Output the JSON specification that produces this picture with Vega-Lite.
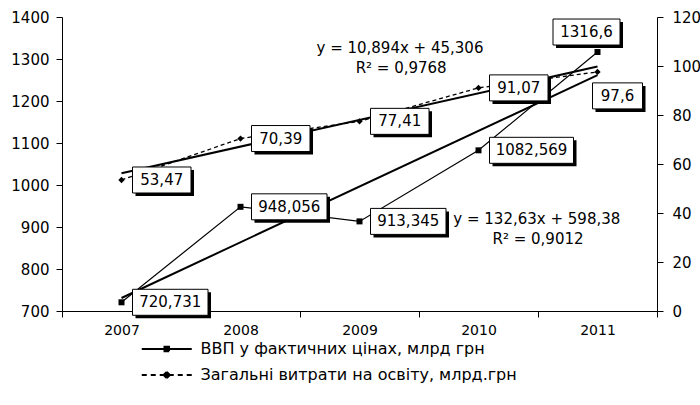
{
  "$schema": "https://vega.github.io/schema/vega-lite/v6.json",
  "autosize": {"type": "none"},
  "width": 595,
  "height": 294,
  "padding": {"left": 62, "top": 17, "right": 43, "bottom": 94},
  "background": "white",
  "config": {
    "font": "DejaVu Sans",
    "view": {"stroke": null},
    "locale": {"number": {"decimal": ",", "thousands": " ", "grouping": [3], "currency": ["", ""]}},
    "axis": {"grid": false, "domainColor": "black", "tickColor": "black", "labelColor": "black", "labelFontSize": 15, "tickSize": 6, "domainWidth": 1, "tickWidth": 1, "title": null},
    "legend": {
      "title": null, "orient": "none", "legendX": 96.75, "legendY": 324, "direction": "vertical",
      "symbolSize": 156.25, "symbolStrokeWidth": 2, "symbolFillColor": "black", "symbolStrokeColor": "black",
      "symbolOpacity": 1, "labelFontSize": 16, "labelColor": "black", "labelOffset": 25.75, "labelLimit": 0, "rowPadding": 10, "padding": 0
    }
  },
  "encoding": {
    "x": {
      "field": "year", "type": "quantitative",
      "scale": {"domain": [2006.5, 2011.5], "nice": false, "zero": false},
      "axis": {
        "values": [2006.5, 2007, 2007.5, 2008, 2008.5, 2009, 2009.5, 2010, 2010.5, 2011, 2011.5],
        "labelExpr": "datum.value % 1 === 0 ? '' + datum.value : ''",
        "tickOpacity": {"condition": {"test": "datum.value % 1 !== 0", "value": 1}, "value": 0},
        "labelPadding": 6, "labelOverlap": false, "labelFlush": false, "labelFontSize": 14
      }
    }
  },
  "layer": [
    {
      "data": {"values": [
        {"year": 2007, "value": 720.731},
        {"year": 2008, "value": 948.056},
        {"year": 2009, "value": 913.345},
        {"year": 2010, "value": 1082.569},
        {"year": 2011, "value": 1316.6}
      ]},
      "encoding": {
        "y": {"field": "value", "type": "quantitative",
          "scale": {"domain": [700, 1400], "nice": false, "zero": false},
          "axis": {"orient": "left", "values": [700, 800, 900, 1000, 1100, 1200, 1300, 1400], "format": "d", "labelPadding": 7}}
      },
      "layer": [
        {"transform": [{"regression": "value", "on": "year"}], "mark": {"type": "line", "color": "black", "strokeWidth": 2}},
        {"mark": {"type": "line", "color": "black", "strokeWidth": 1.2}},
        {"mark": {"type": "point", "shape": "square", "size": 36, "filled": true, "color": "black", "opacity": 1}},
        {
          "mark": {"type": "rect", "fill": "black",
            "xOffset": {"expr": "3 + (datum.year === 2011 ? -11 - (8.5*length(format(datum.value,'~f'))+16)/2 : 11)"},
            "x2Offset": {"expr": "3 + (datum.year === 2011 ? -11 + (8.5*length(format(datum.value,'~f'))+16)/2 : 11 + (8.5*length(format(datum.value,'~f'))+16))"},
            "yOffset": {"expr": "3 + (datum.year === 2011 ? -33 : -13)"},
            "y2Offset": {"expr": "3 + (datum.year === 2011 ? -7 : 13)"}},
          "encoding": {"x2": {"field": "year"}, "y2": {"field": "value"}}
        },
        {
          "mark": {"type": "rect", "fill": "white", "stroke": "black", "strokeWidth": 1,
            "xOffset": {"expr": "datum.year === 2011 ? -11 - (8.5*length(format(datum.value,'~f'))+16)/2 : 11"},
            "x2Offset": {"expr": "datum.year === 2011 ? -11 + (8.5*length(format(datum.value,'~f'))+16)/2 : 11 + (8.5*length(format(datum.value,'~f'))+16)"},
            "yOffset": {"expr": "datum.year === 2011 ? -33 : -13"},
            "y2Offset": {"expr": "datum.year === 2011 ? -7 : 13"}},
          "encoding": {"x2": {"field": "year"}, "y2": {"field": "value"}}
        },
        {
          "mark": {"type": "text", "align": "center", "baseline": "middle", "fontSize": 15, "color": "black",
            "dx": {"expr": "datum.year === 2011 ? -11 : 11 + (8.5*length(format(datum.value,'~f'))+16)/2"},
            "dy": {"expr": "datum.year === 2011 ? -20 : 0"}},
          "encoding": {"text": {"field": "value", "type": "quantitative", "format": "~f"}}
        },
        {
          "data": {"values": [
            {"year": 2010.49, "value": 919, "note": "y = 132,63x + 598,38"},
            {"year": 2010.5, "value": 871, "note": "R² = 0,9012"}
          ]},
          "mark": {"type": "text", "align": "center", "baseline": "middle", "fontSize": 15, "color": "black"},
          "encoding": {"text": {"field": "note", "type": "nominal"}}
        },
        {
          "data": {"values": [
            {"series": "ВВП у фактичних цінах, млрд грн"},
            {"series": "Загальні витрати на освіту, млрд.грн"}
          ]},
          "mark": {"type": "point", "filled": false, "color": "black", "opacity": 0, "strokeWidth": 2},
          "encoding": {
            "x": {"value": 0},
            "y": {"value": 0},
            "shape": {"field": "series", "type": "nominal",
              "scale": {"domain": ["ВВП у фактичних цінах, млрд грн", "Загальні витрати на освіту, млрд.грн"],
                "range": [
                  "M-4,0L4,0M-0.36,-0.36L0.36,-0.36L0.36,0.36L-0.36,0.36ZM-0.36,-0.16L0.36,-0.16M-0.36,0.16L0.36,0.16",
                  "M-4,0L4,0M0,-0.5L0.5,0M0.5,0L0,0.5M0,0.5L-0.5,0M-0.5,0L0,-0.5M-0.35,0L0.35,0M0,-0.3L0,0.3"
                ]},
              "legend": {"encode": {"symbols": {"update": {"stroke": {"value": "black"}, "strokeWidth": {"value": 2}, "fill": {"value": "black"}, "opacity": {"value": 1}}}}}},
            "strokeDash": {"field": "series", "type": "nominal",
              "scale": {"domain": ["ВВП у фактичних цінах, млрд грн", "Загальні витрати на освіту, млрд.грн"],
                "range": [[1, 0], [5, 4]]},
              "legend": {"encode": {"symbols": {"update": {"stroke": {"value": "black"}, "strokeWidth": {"value": 2}, "fill": {"value": "black"}, "opacity": {"value": 1}}}}}}
          }
        }
      ]
    },
    {
      "data": {"values": [
        {"year": 2007, "value": 53.47},
        {"year": 2008, "value": 70.39},
        {"year": 2009, "value": 77.41},
        {"year": 2010, "value": 91.07},
        {"year": 2011, "value": 97.6}
      ]},
      "encoding": {
        "y": {"field": "value", "type": "quantitative",
          "scale": {"domain": [0, 120], "nice": false},
          "axis": {"orient": "right", "values": [0, 20, 40, 60, 80, 100, 120], "format": "d", "labelPadding": 9}}
      },
      "layer": [
        {"transform": [{"regression": "value", "on": "year"}], "mark": {"type": "line", "color": "black", "strokeWidth": 2}},
        {"mark": {"type": "line", "color": "black", "strokeWidth": 1.3, "strokeDash": [4, 3]}},
        {"mark": {"type": "point", "shape": "diamond", "size": 40, "filled": true, "color": "black", "opacity": 1}},
        {
          "mark": {"type": "rect", "fill": "black",
            "xOffset": {"expr": "3 + (datum.year === 2011 ? 20 - (8.5*length(format(datum.value,'~f'))+16)/2 : 11)"},
            "x2Offset": {"expr": "3 + (datum.year === 2011 ? 20 + (8.5*length(format(datum.value,'~f'))+16)/2 : 11 + (8.5*length(format(datum.value,'~f'))+16))"},
            "yOffset": {"expr": "3 + (datum.year === 2011 ? 11 : -13)"},
            "y2Offset": {"expr": "3 + (datum.year === 2011 ? 37 : 13)"}},
          "encoding": {"x2": {"field": "year"}, "y2": {"field": "value"}}
        },
        {
          "mark": {"type": "rect", "fill": "white", "stroke": "black", "strokeWidth": 1,
            "xOffset": {"expr": "datum.year === 2011 ? 20 - (8.5*length(format(datum.value,'~f'))+16)/2 : 11"},
            "x2Offset": {"expr": "datum.year === 2011 ? 20 + (8.5*length(format(datum.value,'~f'))+16)/2 : 11 + (8.5*length(format(datum.value,'~f'))+16)"},
            "yOffset": {"expr": "datum.year === 2011 ? 11 : -13"},
            "y2Offset": {"expr": "datum.year === 2011 ? 37 : 13"}},
          "encoding": {"x2": {"field": "year"}, "y2": {"field": "value"}}
        },
        {
          "mark": {"type": "text", "align": "center", "baseline": "middle", "fontSize": 15, "color": "black",
            "dx": {"expr": "datum.year === 2011 ? 20 : 11 + (8.5*length(format(datum.value,'~f'))+16)/2"},
            "dy": {"expr": "datum.year === 2011 ? 24 : 0"}},
          "encoding": {"text": {"field": "value", "type": "quantitative", "format": "~f"}}
        },
        {
          "data": {"values": [
            {"year": 2009.34, "value": 107.3, "note": "y = 10,894x + 45,306"},
            {"year": 2009.35, "value": 99.2, "note": "R² = 0,9768"}
          ]},
          "mark": {"type": "text", "align": "center", "baseline": "middle", "fontSize": 15, "color": "black"},
          "encoding": {"text": {"field": "note", "type": "nominal"}}
        }
      ]
    }
  ],
  "resolve": {"scale": {"y": "independent"}}
}
